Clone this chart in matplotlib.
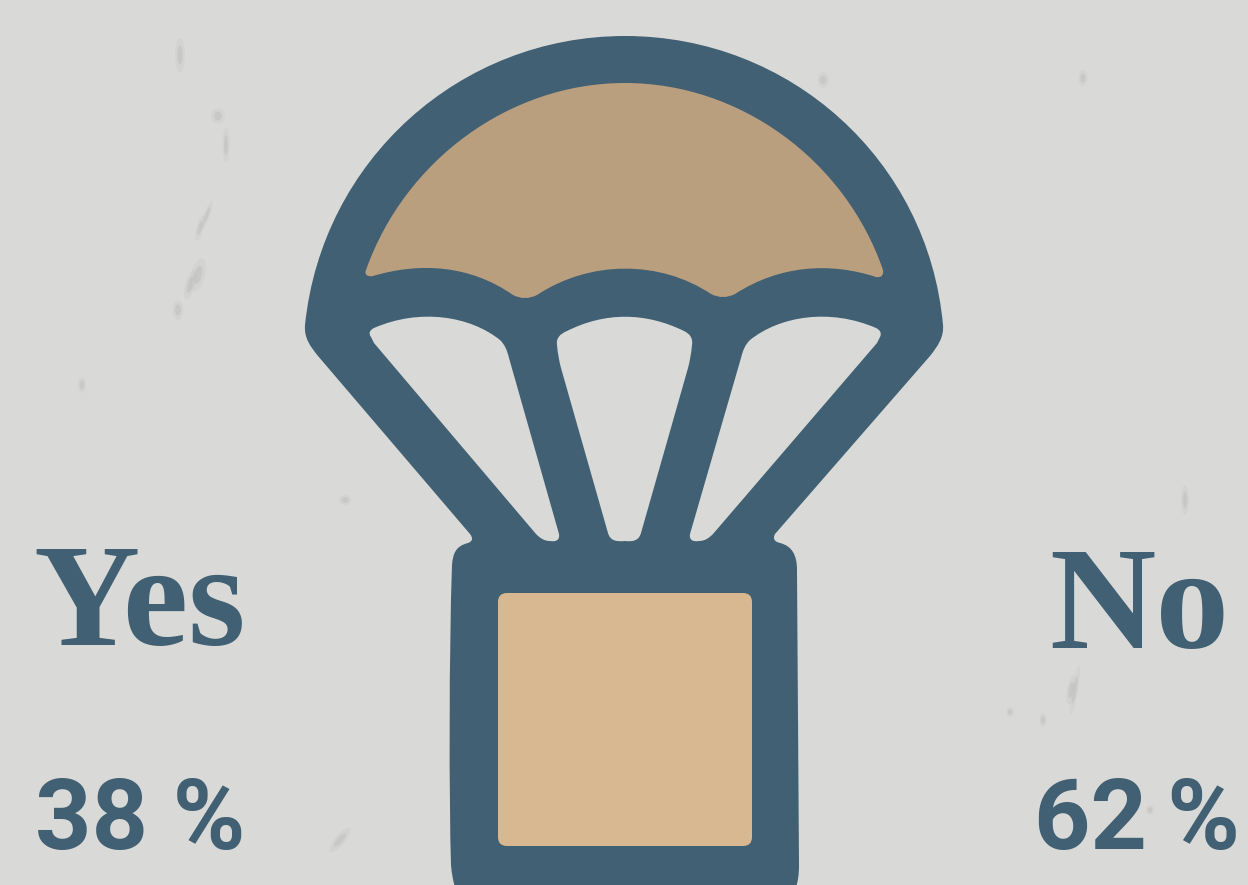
import matplotlib
matplotlib.use("Agg")
import matplotlib.pyplot as plt
from matplotlib.path import Path
from matplotlib.patches import PathPatch, FancyBboxPatch, Ellipse

labels = ["Yes", "No"]
values = [38, 62]

DARK = "#426073"
CANOPY = "#ba9f7f"
BOX = "#d8b891"
BG = "#d9dad8"

# smudges in the paper texture: x, y, width, height, tilt
speck_x = [218, 226, 207, 200, 198, 178, 190, 82, 340, 823, 1083, 808, 620, 647, 1185, 1010, 1043, 1071, 345, 180, 1075, 1150]
speck_y = [116, 145, 215, 228, 275, 310, 285, 385, 840, 80, 78, 366, 355, 465, 500, 712, 720, 690, 500, 55, 690, 810]
speck_w = [14, 7, 6, 7, 14, 11, 10, 8, 10, 12, 9, 14, 8, 8, 8, 8, 7, 8, 12, 10, 6, 8]
speck_h = [16, 36, 30, 26, 34, 20, 30, 16, 32, 16, 16, 16, 14, 14, 30, 10, 14, 30, 10, 34, 50, 10]
speck_t = [0, 0, 20, 15, 15, 0, 15, 0, 40, 0, 0, 0, 0, 0, 0, 0, 0, 10, 0, 0, 10, 0]

M, L, C, Z = Path.MOVETO, Path.LINETO, Path.CURVE4, Path.CLOSEPOLY


def shape(start, segs):
    # segs: points of 1 -> line, 3 -> cubic bezier
    verts = [start]
    codes = [M]
    for s in segs:
        verts += s
        codes += [L] if len(s) == 1 else [C, C, C]
    verts.append(start)
    codes.append(Z)
    return Path(verts, codes)


fig = plt.figure(figsize=(12.48, 8.85), dpi=100, facecolor=BG)
ax = fig.add_axes([0, 0, 1, 1])
ax.set_xlim(0, 1248)
ax.set_ylim(885, 0)
ax.axis("off")

for x, y, w, h, t in zip(speck_x, speck_y, speck_w, speck_h, speck_t):
    ax.add_patch(Ellipse((x, y), w, h, angle=t, fc="#b4b5b3", ec="none", alpha=0.14))
    ax.add_patch(Ellipse((x, y), w * 0.55, h * 0.55, angle=t, fc="#aeafad", ec="none", alpha=0.28))

outline = shape((305, 325), [
    [(322, 160), (460, 36), (625, 36)],
    [(790, 36), (928, 160), (943, 325)],
    [(944, 337), (938, 346), (930, 356)],
    [(775, 534)],
    [(772, 540), (776, 542), (780, 543)],
    [(792, 546), (797, 555), (797, 570)],
    [(799, 865)],
    [(799, 875), (798, 882), (795, 890)],
    [(456, 890)],
    [(453, 882), (452, 875), (451, 865)],
    [(449, 800), (449, 650), (452, 565)],
    [(453, 553), (456, 546), (468, 543)],
    [(473, 541), (473, 538), (470, 534)],
    [(318, 356)],
    [(310, 346), (304, 338), (305, 325)],
])
ax.add_patch(PathPatch(outline, fc=DARK, ec="none"))

canopy = shape((366, 270), [
    [(405, 160), (510, 83), (625, 83)],
    [(740, 83), (845, 160), (883, 270)],
    [(884, 276), (880, 278), (876, 277)],
    [(830, 262), (780, 265), (735, 294)],
    [(727, 298), (719, 298), (711, 294)],
    [(660, 260), (590, 260), (537, 295)],
    [(529, 299), (521, 299), (513, 295)],
    [(470, 265), (420, 262), (373, 276)],
    [(368, 277), (364, 275), (366, 270)],
])
ax.add_patch(PathPatch(canopy, fc=CANOPY, ec="none"))

hole_left = shape((371, 337), [
    [(368, 333), (370, 330), (374, 328)],
    [(420, 308), (470, 316), (500, 340)],
    [(505, 345), (507, 350), (509, 358)],
    [(559, 534)],
    [(560, 540), (556, 542), (550, 541)],
    [(544, 541), (540, 538), (536, 534)],
    [(374, 343)],
    [(373, 341), (372, 339), (371, 337)],
])
hole_mid = shape((557, 345), [
    [(556, 338), (560, 334), (567, 331)],
    [(605, 312), (645, 312), (684, 331)],
    [(690, 334), (693, 338), (692, 345)],
    [(691, 355), (690, 360), (688, 368)],
    [(641, 533)],
    [(639, 540), (634, 542), (625, 541)],
    [(615, 542), (610, 540), (608, 533)],
    [(561, 368)],
    [(559, 360), (558, 355), (557, 345)],
])
hole_right = shape((880, 337), [
    [(882, 333), (880, 330), (876, 328)],
    [(830, 308), (780, 316), (750, 340)],
    [(745, 345), (743, 350), (741, 358)],
    [(690, 534)],
    [(689, 540), (693, 542), (699, 541)],
    [(705, 541), (709, 538), (713, 534)],
    [(877, 343)],
    [(878, 341), (879, 339), (880, 337)],
])
for h in [hole_left, hole_mid, hole_right]:
    ax.add_patch(PathPatch(h, fc=BG, ec="none"))

ax.add_patch(FancyBboxPatch((505, 600), 240, 239, boxstyle="round,pad=7,rounding_size=9", fc=BOX, ec="none"))

# labels and shares, left and right of the crate
ax.text(140, 645, labels[0], family="Liberation Serif", weight="bold", fontsize=106, color=DARK, ha="center", va="baseline")
ax.text(1139, 648, labels[1], family="Liberation Serif", weight="bold", fontsize=106, color=DARK, ha="center", va="baseline")
ax.text(140, 849, f"{values[0]} %", family="Roboto", weight="bold", fontsize=71, color=DARK, ha="center", va="baseline")
ax.text(1137, 849, f"{values[1]}\u2009%", family="Roboto", weight="bold", fontsize=71, color=DARK, ha="center", va="baseline")

fig.savefig("out.png", dpi=100, facecolor=BG)
